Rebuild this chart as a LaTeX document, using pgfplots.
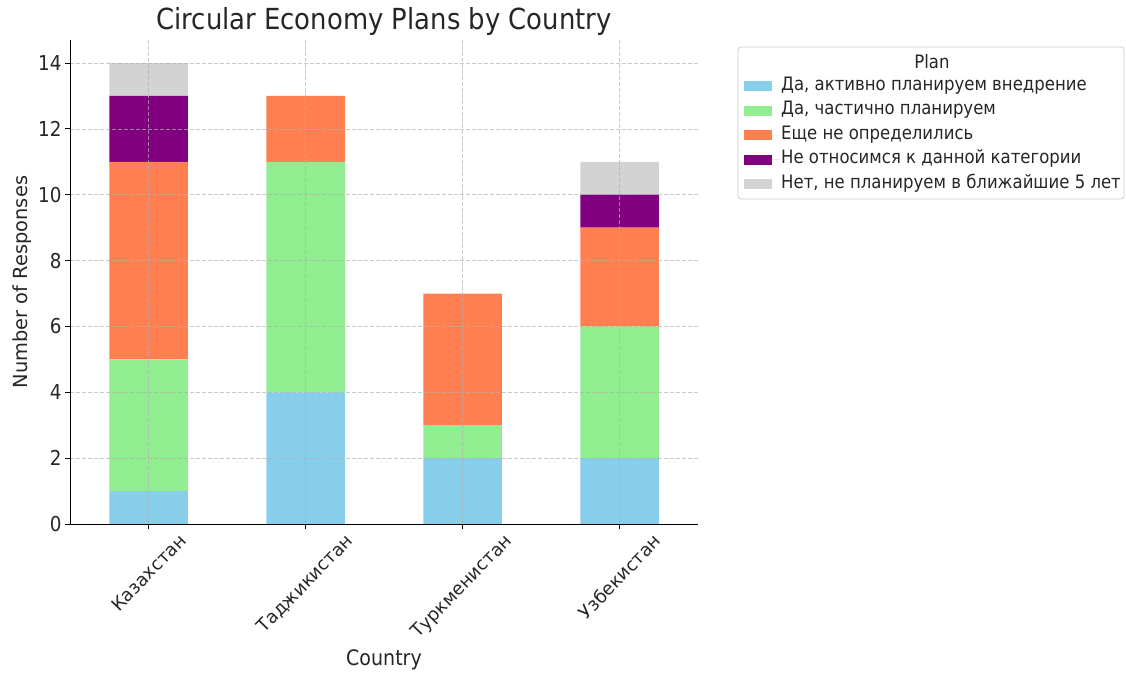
\documentclass[border=0pt]{standalone}
\usepackage{fontspec}
\setmainfont{DejaVu Sans}[FakeStretch=0.893]
\newfontfamily\plainfont{DejaVu Sans}
\usepackage{graphicx}
\usepackage{pgfplots}
\pgfplotsset{compat=1.18}
\definecolor{cblue}{HTML}{87CEEB}
\definecolor{cgreen}{HTML}{90EE90}
\definecolor{corange}{HTML}{FF7F50}
\definecolor{cpurple}{HTML}{800080}
\definecolor{cgray}{HTML}{D3D3D3}
\definecolor{gridc}{HTML}{B0B0B0}
\definecolor{txt}{HTML}{262626}
\definecolor{legframe}{HTML}{CCCCCC}
\begin{document}
\begin{tikzpicture}
\path[use as bounding box] (0,0) rectangle (1126pt,673pt);
\begin{axis}[
  at={(70pt,149pt)}, anchor=south west,
  scale only axis, width=628pt, height=484pt,
  ybar stacked, bar width=0.5,
  xmin=-0.5, xmax=3.5, ymin=0, ymax=14.7,
  enlargelimits=false,
  xtick={0,1,2,3},
  xticklabels={\rotatebox{46}{Казахстан},\rotatebox{46}{Таджикистан},\rotatebox{46}{Туркменистан},\rotatebox{46}{Узбекистан}},
  ytick={0,2,...,14},
  axis x line*=bottom, axis y line*=left,
  axis line style={-, black, line width=0.9pt},
  tick align=outside, tick style={black, line width=0.9pt}, major tick length=5pt,
  grid=major,
  grid style={gridc, dash pattern=on 4pt off 2pt, line width=0.7pt, opacity=0.7},
  axis on top,
  yticklabel style={font=\fontsize{20.5}{24}\selectfont, text=txt},
  xticklabel style={font=\plainfont\fontsize{18}{21}\selectfont, text=txt},
  /pgf/number format/assume math mode=true,
  xlabel={Country}, ylabel={Number of Responses},
  xlabel style={font=\fontsize{21.3}{25}\selectfont, text=txt, at={(axis description cs:0.5,-0.281)}, anchor=center},
  ylabel style={font=\plainfont\fontsize{19.4}{22}\selectfont, text=txt, at={(axis description cs:-0.0764,0.5)}, anchor=center},
  title={Circular Economy Plans by Country},
  title style={font=\fontsize{29}{34}\selectfont, text=txt, at={(axis description cs:0.5,1)}, anchor=center, yshift=12pt},
  legend cell align=left,
  legend style={draw=none, fill=none, at={(1.0732,0.9236)}, anchor=north west,
    font=\fontsize{18.5}{21}\selectfont, text=txt, row sep=6.5pt, inner sep=0pt,
    nodes={inner sep=1pt, text height=12pt, text depth=4pt}},
  legend image code/.code={\fill[#1] (0pt,-5pt) rectangle (28pt,5pt); \path (0pt,0pt) -- (36pt,0pt);},
]
\addplot[fill=cblue, draw=none] coordinates {(0,1) (1,4) (2,2) (3,2)};
\addlegendentry{Да, активно планируем внедрение}
\addplot[fill=cgreen, draw=none] coordinates {(0,4) (1,7) (2,1) (3,4)};
\addlegendentry{Да, частично планируем}
\addplot[fill=corange, draw=none] coordinates {(0,6) (1,2) (2,4) (3,3)};
\addlegendentry{Еще не определились}
\addplot[fill=cpurple, draw=none] coordinates {(0,2) (1,0) (2,0) (3,1)};
\addlegendentry{Не относимся к данной категории}
\addplot[fill=cgray, draw=none] coordinates {(0,1) (1,0) (2,0) (3,1)};
\addlegendentry{Нет, не планируем в ближайшие 5 лет}
\end{axis}
\draw[legframe, line width=0.8pt, rounded corners=3pt] (738pt,474pt) rectangle (1124pt,626pt);
\node[font=\fontsize{18.5}{21}\selectfont, text=txt] at (932pt,611pt) {Plan};
\end{tikzpicture}
\end{document}
